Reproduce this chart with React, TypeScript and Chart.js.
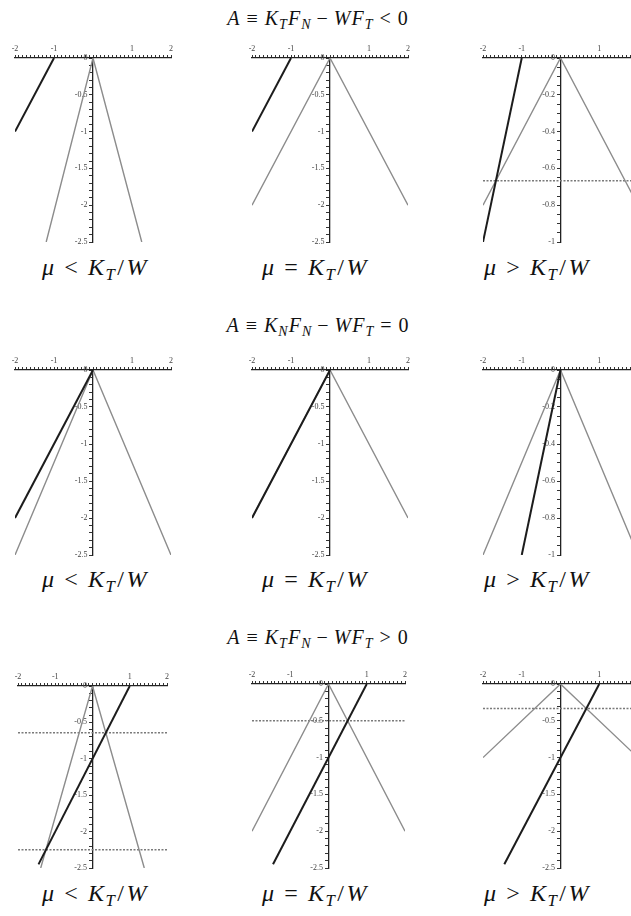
import React, { useEffect, useRef } from 'react';
import { Chart, registerables } from 'chart.js';

Chart.register(...registerables);

type Pt = [number, number];

// ---- data (values in plot units) ----
const xTickLabels = [-2, -1, 1, 2];
const yTickLabelsWide = [0, -0.5, -1, -1.5, -2, -2.5];
const yTickLabelsNarrow = [0, -0.2, -0.4, -0.6, -0.8, -1];

// Row 1: A = K_T F_N - W F_T < 0
const p1Dark: Pt[] = [[-2, -1], [-1, 0]];
const p1Gray: Pt[] = [[-1.2, -2.5], [0, 0], [1.25, -2.5]];
const p1Dash: number[] = [];

const p2Dark: Pt[] = [[-2, -1], [-1, 0]];
const p2Gray: Pt[] = [[-2, -2], [0, 0], [2, -2]];
const p2Dash: number[] = [];

const p3Dark: Pt[] = [[-2, -1], [-1, 0]];
const p3Gray: Pt[] = [[-2, -0.8], [0, 0], [2, -0.8]];
const p3Dash: number[] = [-0.667];

// Row 2: A = K_N F_N - W F_T = 0
const p4Dark: Pt[] = [[-2, -2], [0, 0]];
const p4Gray: Pt[] = [[-2, -2.5], [0, 0], [2, -2.5]];
const p4Dash: number[] = [];

const p5Dark: Pt[] = [[-2, -2], [0, 0]];
const p5Gray: Pt[] = [[-2, -2], [0, 0], [2, -2]];
const p5Dash: number[] = [];

const p6Dark: Pt[] = [[-1, -1], [0, 0]];
const p6Gray: Pt[] = [[-2, -1], [0, 0], [2, -1]];
const p6Dash: number[] = [];

// Row 3: A = K_T F_N - W F_T > 0
const p7Dark: Pt[] = [[-1.45, -2.45], [1, 0]];
const p7Gray: Pt[] = [[-1.39, -2.5], [0, 0], [1.39, -2.5]];
const p7Dash: number[] = [-0.643, -2.25];

const p8Dark: Pt[] = [[-1.45, -2.45], [1, 0]];
const p8Gray: Pt[] = [[-2, -2], [0, 0], [2, -2]];
const p8Dash: number[] = [-0.5];

const p9Dark: Pt[] = [[-1.45, -2.45], [1, 0]];
const p9Gray: Pt[] = [[-2, -1], [0, 0], [2, -1]];
const p9Dash: number[] = [-0.333];

const yMins = [-2.5, -2.5, -1, -2.5, -2.5, -1, -2.5, -2.5, -2.5];

const panelData = [
  { dark: p1Dark, gray: p1Gray, dash: p1Dash },
  { dark: p2Dark, gray: p2Gray, dash: p2Dash },
  { dark: p3Dark, gray: p3Gray, dash: p3Dash },
  { dark: p4Dark, gray: p4Gray, dash: p4Dash },
  { dark: p5Dark, gray: p5Gray, dash: p5Dash },
  { dark: p6Dark, gray: p6Gray, dash: p6Dash },
  { dark: p7Dark, gray: p7Gray, dash: p7Dash },
  { dark: p8Dark, gray: p8Gray, dash: p8Dash },
  { dark: p9Dark, gray: p9Gray, dash: p9Dash },
];

// ---- layout (pixel boxes of each plot area) ----
const plotBoxes = [
  { l: 15, r: 171, t: 58, b: 242 },
  { l: 252, r: 408, t: 58, b: 242 },
  { l: 483, r: 638, t: 58, b: 242 },
  { l: 15, r: 171, t: 370, b: 555 },
  { l: 252, r: 408, t: 370, b: 555 },
  { l: 483, r: 638, t: 370, b: 555 },
  { l: 18, r: 167, t: 686, b: 868 },
  { l: 252, r: 405, t: 684, b: 868 },
  { l: 483, r: 638, t: 684, b: 868 },
];

const PADL = 10;
const PADR = 10;
const PADT = 3;
const XAXIS_H = 15;
const PADB = 8;

const MATH_FONT = '"Liberation Serif", "DejaVu Serif", serif';
const TICK_FONT = '"Liberation Serif", serif';

const near = (v: number, arr: number[]) => arr.some((a) => Math.abs(a - v) < 1e-6);
const fmt = (v: number) => String(Number(v.toFixed(2)));

function Sub({ c }: { c: string }) {
  return (
    <sub style={{ fontSize: '0.7em', verticalAlign: '-0.32em', lineHeight: 0, fontStyle: 'italic' }}>{c}</sub>
  );
}

function Op({ s, m }: { s: string; m: number }) {
  return <span style={{ margin: `0 ${m}em`, fontStyle: 'normal' }}>{s}</span>;
}

function Title({ k, rel, x, y }: { k: string; rel: string; x: number; y: number }) {
  return (
    <div
      style={{
        position: 'absolute',
        left: x,
        top: y,
        transform: 'translate(-50%, -50%)',
        fontFamily: MATH_FONT,
        fontSize: 20,
        letterSpacing: 1,
        whiteSpace: 'nowrap',
        color: '#111',
      }}
    >
      <i>A</i>
      <Op s="≡" m={0.3} />
      <i>K</i>
      <Sub c={k} />
      <i>F</i>
      <Sub c="N" />
      <Op s="−" m={0.25} />
      <i>W</i>
      <i>F</i>
      <Sub c="T" />
      <Op s={rel} m={0.3} />
      0
    </div>
  );
}

function Caption({ rel, x, y }: { rel: string; x: number; y: number }) {
  return (
    <div
      style={{
        position: 'absolute',
        left: x,
        top: y,
        transform: 'translate(-50%, -50%)',
        fontFamily: MATH_FONT,
        fontSize: 24,
        letterSpacing: 1.5,
        whiteSpace: 'nowrap',
        color: '#111',
      }}
    >
      <i>μ</i>
      <Op s={rel} m={0.36} />
      <i>K</i>
      <Sub c="T" />
      <span style={{ margin: '0 1px' }}>/</span>
      <i>W</i>
    </div>
  );
}

export default function App() {
  const refs = useRef<(HTMLCanvasElement | null)[]>([]);

  useEffect(() => {
    const charts: Chart[] = [];
    panelData.forEach((p, i) => {
      const canvas = refs.current[i];
      if (!canvas) return;
      const yMin = yMins[i];
      const narrow = yMin > -2;
      const yLabels = narrow ? yTickLabelsNarrow : yTickLabelsWide;
      const datasets: any[] = [
        {
          data: p.dark.map(([x, y]) => ({ x, y })),
          showLine: true,
          borderColor: '#1c1c1c',
          borderWidth: 2,
          pointRadius: 0,
          fill: false,
        },
        {
          data: p.gray.map(([x, y]) => ({ x, y })),
          showLine: true,
          borderColor: '#8c8c8c',
          borderWidth: 1.4,
          pointRadius: 0,
          fill: false,
        },
        ...p.dash.map((v) => ({
          data: [
            { x: -2, y: v },
            { x: 2, y: v },
          ],
          showLine: true,
          borderColor: '#7a7a7a',
          borderWidth: 1.6,
          borderDash: [2, 1.5],
          pointRadius: 0,
          fill: false,
        })),
      ];
      const chart = new Chart(canvas, {
        type: 'scatter',
        data: { datasets },
        options: {
          animation: false,
          responsive: false,
          maintainAspectRatio: false,
          events: [],
          layout: { padding: { left: PADL, right: PADR, top: PADT, bottom: PADB } },
          plugins: { legend: { display: false }, tooltip: { enabled: false } },
          scales: {
            x: {
              type: 'linear',
              position: 'top',
              min: -2,
              max: 2,
              border: { display: true, color: '#222', width: 1.3 },
              grid: { drawOnChartArea: false, drawTicks: true, tickLength: 3, color: '#333', lineWidth: 1 },
              ticks: {
                stepSize: 0.1,
                autoSkip: false,
                maxRotation: 0,
                minRotation: 0,
                padding: 1,
                color: '#444',
                font: { family: TICK_FONT, size: 8, lineHeight: 1.25 },
                callback: (v: any) => (near(Number(v), xTickLabels) ? fmt(Number(v)) : ''),
              },
            },
            y: {
              type: 'linear',
              position: { x: 0 } as any,
              min: yMin,
              max: 0,
              border: { display: true, color: '#222', width: 1.3 },
              grid: { drawOnChartArea: false, drawTicks: true, tickLength: 3, color: '#333', lineWidth: 1 },
              ticks: {
                stepSize: narrow ? 0.05 : 0.1,
                autoSkip: false,
                padding: 2,
                color: '#444',
                font: { family: TICK_FONT, size: 8, lineHeight: 1.25 },
                callback: (v: any) => (near(Number(v), yLabels) ? fmt(Number(v)) + '\u2002\u2009' : ''),
              },
            },
          },
        },
      });
      charts.push(chart);
    });
    return () => charts.forEach((c) => c.destroy());
  }, []);

  const titleY = [18, 325, 637];
  const captionY = [267, 579, 893];
  const captionX = [95, 315, 537];
  const rels = ['<', '=', '>'];
  const titleK = ['T', 'N', 'T'];

  return (
    <div
      style={{
        position: 'fixed',
        left: 0,
        top: 0,
        width: 631,
        height: 916,
        overflow: 'hidden',
        background: '#fff',
      }}
    >
      {plotBoxes.map((b, i) => {
        const w = b.r - b.l + PADL + PADR;
        const h = b.b - b.t + PADT + XAXIS_H + PADB;
        return (
          <canvas
            key={i}
            ref={(el) => {
              refs.current[i] = el;
            }}
            width={w}
            height={h}
            style={{ position: 'absolute', left: b.l - PADL, top: b.t - PADT - XAXIS_H, width: w, height: h }}
          />
        );
      })}
      {titleY.map((y, r) => (
        <Title key={'t' + r} k={titleK[r]} rel={rels[r]} x={318} y={y} />
      ))}
      {captionY.map((y, r) =>
        captionX.map((x, c) => <Caption key={'c' + r + c} rel={rels[c]} x={x} y={y} />)
      )}
    </div>
  );
}
